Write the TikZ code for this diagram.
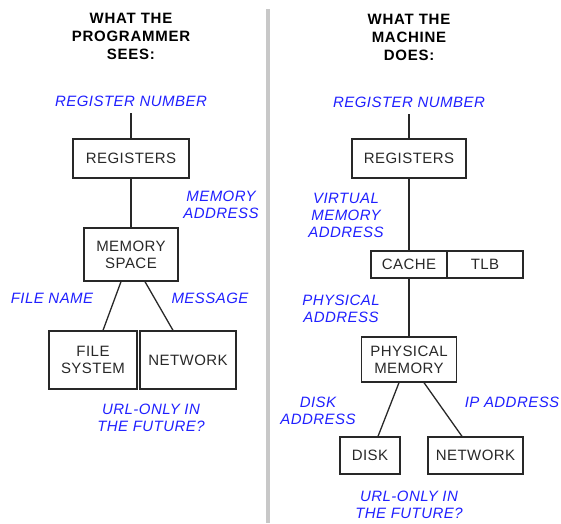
\documentclass[tikz,border=0pt]{standalone}
\usepackage{fontspec}
\setmainfont{Liberation Sans}
\newfontfamily\trackedfont[LetterSpace=3]{Liberation Sans}
\newfontfamily\headfont[LetterSpace=5]{Liberation Sans}
\usetikzlibrary{calc}
\definecolor{labelblue}{RGB}{32,32,255}
\definecolor{inkgray}{RGB}{40,40,40}
\definecolor{divgray}{RGB}{200,200,200}
\tikzset{
  heading/.style={font=\headfont\fontsize{15}{18}\selectfont\bfseries, align=center, inner sep=0pt, text=black},
  tag/.style={font=\trackedfont\fontsize{15}{17}\selectfont\itshape, align=center, inner sep=0pt, text=labelblue},
  unit/.style={draw=inkgray, line width=1.3pt, font=\trackedfont\fontsize{15}{17}\selectfont, align=center, inner sep=0pt, text=inkgray},
  wire/.style={draw=inkgray, line width=1.3pt},
}
\begin{document}
\begin{tikzpicture}[x=1pt, y=-1pt]
\useasboundingbox (0,0) rectangle (561,523);
% divider between the two views
\fill[divgray] (266,9) rectangle (270,523);

% ---------- programmer's view ----------
\node[heading] (tL) at (131,36) {WHAT THE\\PROGRAMMER\\SEES:};
\node[tag] (rnL) at (131,101) {REGISTER NUMBER};
\node[unit, minimum width=116pt, minimum height=39pt] (regL) at (131,158.5) {REGISTERS};
\node[tag] (maL) at (221,204.5) {MEMORY\\ADDRESS};
\node[unit, minimum width=94pt, minimum height=53pt] (msL) at (131,254.5) {MEMORY\\SPACE};
\node[tag] (fnL) at (52,298) {FILE NAME};
\node[tag] (mgL) at (210,298) {MESSAGE};
\node[unit, minimum width=88pt, minimum height=58pt] (fsL) at (93,360) {FILE\\SYSTEM};
\node[unit, minimum width=96pt, minimum height=58pt] (nwL) at (188,360) {NETWORK};
\node[tag] (urlL) at (151,417.5) {URL-ONLY IN\\THE FUTURE?};

\draw[wire] ([yshift=-6.5pt]rnL.south) -- (regL.north);
\draw[wire] (regL.south) -- (msL.north);
\draw[wire] ($(msL.south)+(-10,0)$) -- ($(fsL.north)+(10,0)$);
\draw[wire] ($(msL.south)+(14,0)$) -- ($(nwL.north)+(-15,0)$);

% ---------- machine's view ----------
\node[heading] (tR) at (409,37) {WHAT THE\\MACHINE\\DOES:};
\node[tag] (rnR) at (409,102) {REGISTER NUMBER};
\node[unit, minimum width=114pt, minimum height=39pt] (regR) at (409,158.5) {REGISTERS};
\node[tag] (vmaR) at (346,215) {VIRTUAL\\MEMORY\\ADDRESS};
\node[unit, minimum width=76pt, minimum height=27pt] (cache) at (409,264.5) {CACHE};
\node[unit, minimum width=76pt, minimum height=27pt] (tlb) at (485,264.5) {TLB};
\node[tag] (paR) at (341,308.5) {PHYSICAL\\ADDRESS};
\node[unit, minimum width=95pt, minimum height=45pt] (pm) at (409,359.5) {PHYSICAL\\MEMORY};
\node[tag] (daR) at (318,411) {DISK\\ADDRESS};
\node[tag] (ipR) at (512,402) {IP ADDRESS};
\node[unit, minimum width=60pt, minimum height=37pt] (disk) at (370,455.5) {DISK};
\node[unit, minimum width=95pt, minimum height=37pt] (nwR) at (475.5,455.5) {NETWORK};
\node[tag] (urlR) at (409,505) {URL-ONLY IN\\THE FUTURE?};

\draw[wire] ([yshift=-6.5pt]rnR.south) -- (regR.north);
\draw[wire] (regR.south) -- (cache.north);
\draw[wire] (cache.south) -- (pm.north);
\draw[wire] ($(pm.south)+(-10,0)$) -- ($(disk.north)+(8,0)$);
\draw[wire] ($(pm.south)+(15,0)$) -- ($(nwR.north)+(-13.5,0)$);
\end{tikzpicture}
\end{document}
